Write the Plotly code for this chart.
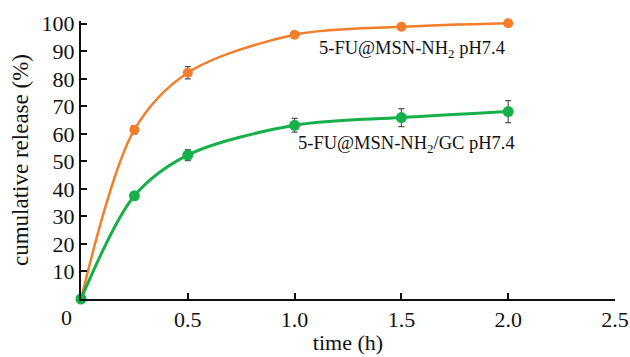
import plotly.graph_objects as go

time_h = [0, 0.25, 0.5, 1.0, 1.5, 2.0]
msn_release = [0, 61.5, 82.2, 96.0, 98.9, 100.2]
msn_err = [0, 1.5, 2.2, 0.8, 0.8, 0.5]
gc_release = [0, 37.5, 52.3, 63.1, 65.9, 68.1]
gc_err = [0, 1.0, 2.0, 2.5, 3.3, 4.0]

x_ticks = [0.5, 1.0, 1.5, 2.0, 2.5]
x_ticktext = ["0.5", "1.0", "1.5", "2.0", "2.5"]
y_ticks = [10, 20, 30, 40, 50, 60, 70, 80, 90, 100]

orange = "#F47D2A"
green = "#16B04A"
font = "Liberation Serif"

L, R, T, B = 81, 15, 21, 58
W, H = 630, 357
pw, ph = W - L - R, H - T - B

fig = go.Figure()
fig.add_trace(go.Scatter(
    x=time_h, y=msn_release, mode="lines+markers",
    line=dict(color=orange, width=2.5, shape="spline", smoothing=0.9),
    marker=dict(color=orange, size=10),
    error_y=dict(type="data", array=msn_err, color="#555555", thickness=1.2, width=3),
    cliponaxis=False, showlegend=False,
))
fig.add_trace(go.Scatter(
    x=time_h, y=gc_release, mode="lines+markers",
    line=dict(color=green, width=3, shape="spline", smoothing=0.9),
    marker=dict(color=green, size=11),
    error_y=dict(type="data", array=gc_err, color="#555555", thickness=1.2, width=3),
    cliponaxis=False, showlegend=False,
))

fig.add_annotation(x=1.55, y=90.5, xref="x", yref="y",
                   text="5-FU@MSN-NH<sub>2</sub> pH7.4", showarrow=False,
                   font=dict(family=font, size=18.5, color="#111111"))
fig.add_annotation(x=1.525, y=56, xref="x", yref="y",
                   text="5-FU@MSN-NH<sub>2</sub>/GC pH7.4", showarrow=False,
                   font=dict(family=font, size=18.5, color="#111111"))
fig.add_annotation(x=(66 - L) / pw, y=(H - B - 317) / ph, xref="paper", yref="paper",
                   text="0", showarrow=False, xanchor="center", yanchor="middle",
                   font=dict(family=font, size=22, color="#111111"))

fig.update_layout(
    width=W, height=H,
    margin=dict(l=L, r=R, t=T, b=B),
    plot_bgcolor="white", paper_bgcolor="white",
    font=dict(family=font, size=22, color="#111111"),
    xaxis=dict(range=[0, 2.5], tickvals=x_ticks, ticktext=x_ticktext,
               ticks="inside", ticklen=6, tickwidth=2, tickcolor="#111111",
               showline=True, linecolor="#111111", linewidth=2,
               showgrid=False, zeroline=False, automargin=False,
               title=dict(text="time (h)", font=dict(size=22), standoff=3),
               tickfont=dict(size=22)),
    yaxis=dict(range=[0, 101], tickvals=y_ticks,
               ticks="inside", ticklen=6, tickwidth=2, tickcolor="#111111",
               showline=True, linecolor="#111111", linewidth=2,
               showgrid=False, zeroline=False, automargin=False,
               title=dict(text="cumulative release (%)", font=dict(size=23), standoff=7),
               tickfont=dict(size=22)),
)

fig.write_html("out.html", config={"displayModeBar": False},
               post_script="document.body.style.margin='0';document.body.style.padding='0';")
